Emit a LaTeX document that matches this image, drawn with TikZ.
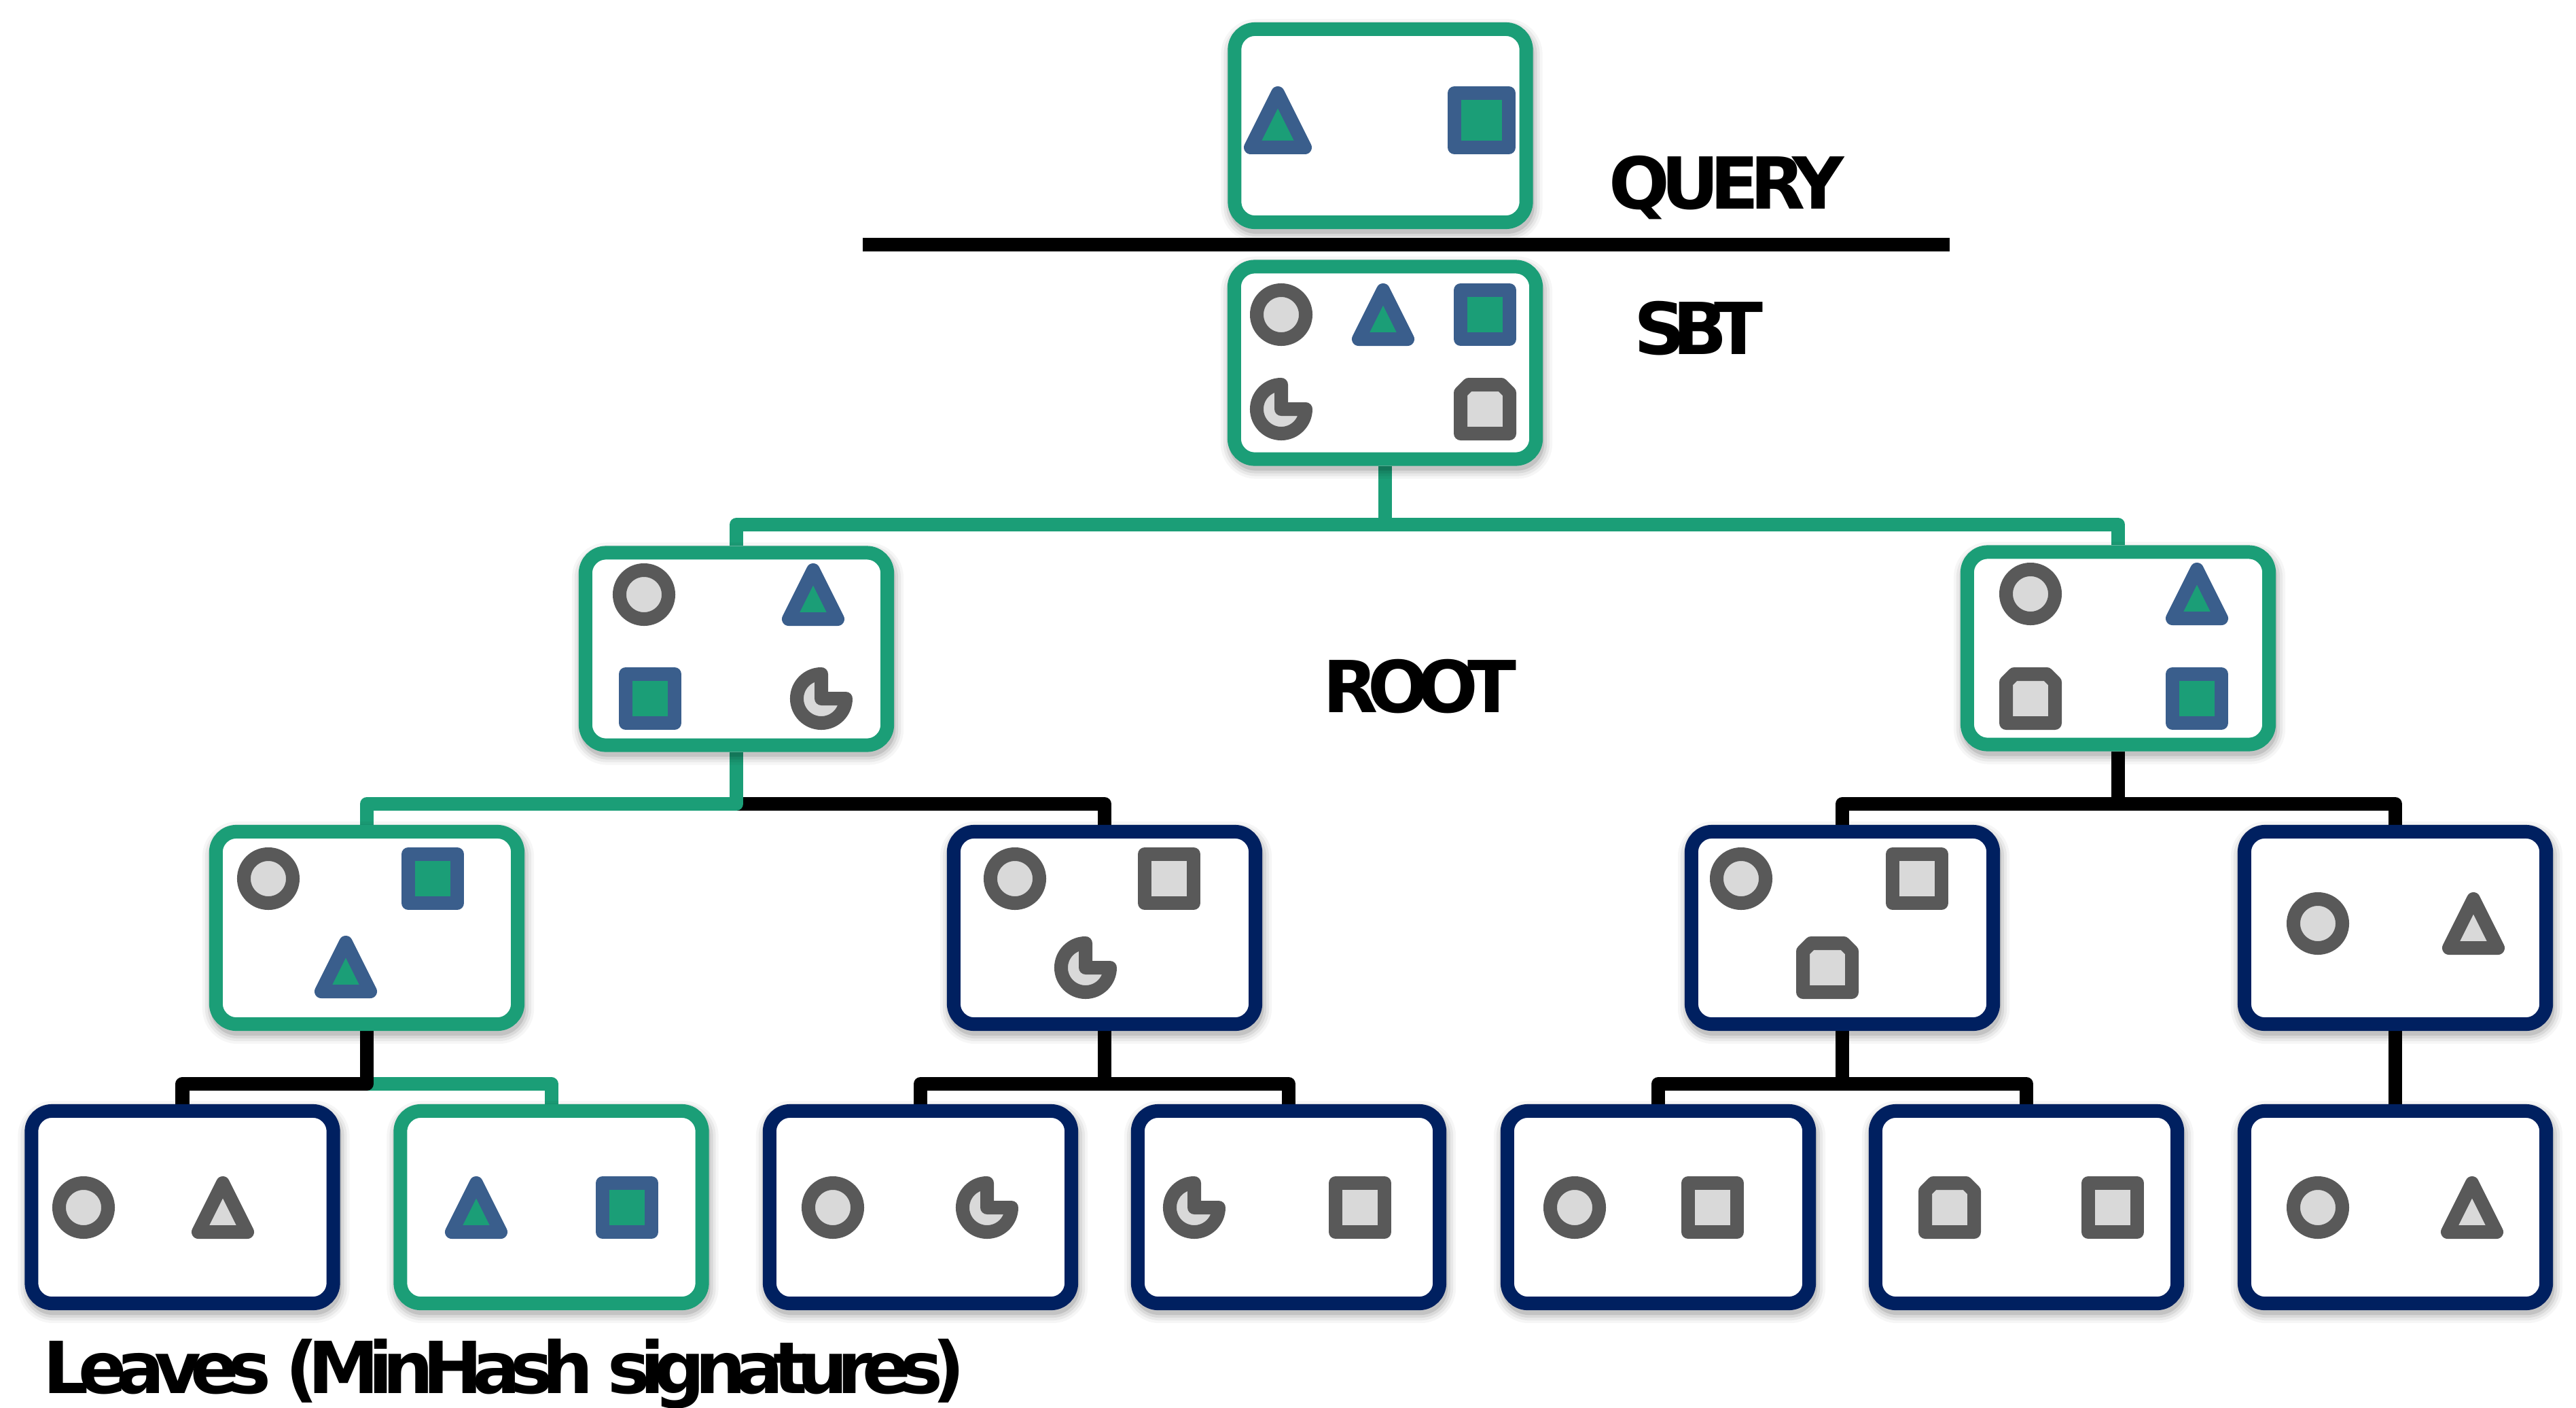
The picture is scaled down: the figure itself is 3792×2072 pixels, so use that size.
\documentclass[tikz,border=0pt]{standalone}
\usepackage{fontspec}
\usetikzlibrary{shadows,calc,backgrounds}
\newfontfamily\labfont{DejaVu Sans}
\definecolor{tgreen}{HTML}{1B9E77}
\definecolor{tnavy}{HTML}{002060}
\definecolor{tblue}{HTML}{3A5E8C}
\definecolor{tgray}{HTML}{595959}
\definecolor{tlight}{HTML}{D9D9D9}
\tikzset{
  softshadow/.style={
    general shadow={shadow xshift=.02cm,shadow yshift=-.07cm,draw=black,fill=black,line width=.44cm,opacity=.035},
    general shadow={shadow xshift=.02cm,shadow yshift=-.07cm,draw=black,fill=black,line width=.36cm,opacity=.05},
    general shadow={shadow xshift=.02cm,shadow yshift=-.07cm,draw=black,fill=black,line width=.28cm,opacity=.07},
    general shadow={shadow xshift=.02cm,shadow yshift=-.07cm,draw=black,fill=black,line width=.2cm,opacity=.1}
  },
  treebox/.style={draw,fill=white,line width=.2cm,rounded corners=.3cm,inner sep=0pt,
    minimum width=4.44cm,minimum height=2.83cm,softshadow},
  hitbox/.style={treebox,draw=tgreen},
  missbox/.style={treebox,draw=tnavy},
  link/.style={line width=.2cm,line join=round},
  hitlink/.style={link,draw=tgreen},
  misslink/.style={link,draw=black},
  graysym/.style={draw=tgray,fill=tlight,line width=.2cm,line join=round},
  bluesym/.style={draw=tblue,fill=tgreen,line width=.2cm,line join=round},
  lab/.style={anchor=base west,inner sep=0pt,font=\labfont\bfseries\fontsize{30}{36}\selectfont,text=black},
  pics/trisym/.style={code={\draw[pic actions] (-36,36) -- (36,36) -- (0,-36) -- cycle;}},
  pics/squaresym/.style={code={\draw[pic actions] (-36,-36) rectangle (36,36);}},
  pics/circlesym/.style={code={\draw[pic actions] (0,0) circle[radius=.36cm];}},
  pics/piesym/.style={code={\draw[pic actions] (0,-36) -- (0,0) -- (36,0) arc[start angle=0,end angle=-270,radius=.36cm] -- cycle;}},
  pics/snipsym/.style={code={\draw[pic actions] (-36,36) -- (36,36) -- (36,-24) -- (24,-36) -- (-24,-36) -- (-36,-24) -- cycle;}},
}
\begin{document}
\begin{tikzpicture}[x=.01cm,y=-.01cm]
\useasboundingbox (0,0) rectangle (3792,2072);
% boxes
\node[hitbox,minimum width=4.29cm,minimum height=2.84cm] (query) at (2032,185) {};
\node[hitbox] (sbt) at (2039,534) {};
\node[hitbox] (l2a) at (1084,955) {};
\node[hitbox] (l2b) at (3118,954) {};
\node[hitbox] (l3a) at (540,1365.5) {};
\node[missbox] (l3b) at (1626,1365.5) {};
\node[missbox] (l3c) at (2712,1365.5) {};
\node[missbox] (l3d) at (3526,1365.5) {};
\node[missbox] (la) at (268.5,1776.5) {};
\node[hitbox] (lb) at (811.5,1776.5) {};
\node[missbox] (lc) at (1355,1776.5) {};
\node[missbox] (ld) at (1897,1776.5) {};
\node[missbox] (le) at (2441,1776.5) {};
\node[missbox] (lf) at (2983,1776.5) {};
\node[missbox] (lg) at (3526,1776.5) {};
% bar levels
\coordinate (bartop) at (sbt |- 0,772);
\coordinate (barl) at (l2a |- 0,1183);
\coordinate (barr) at (l2b |- 0,1183);
\coordinate (bara) at (l3a |- 0,1595);
\coordinate (barb) at (l3b |- 0,1595);
\coordinate (barc) at (l3c |- 0,1595);
% connectors, beneath the boxes and their shadows
\begin{scope}[on background layer]
\draw[hitlink] (sbt.south) -- (bartop) -| (l2b.north);
\draw[hitlink] (bartop) -| (l2a.north);
\draw[misslink] (barl) -| (l3b.north);
\draw[hitlink] (l2a.south) -- (barl) -| (l3a.north);
\draw[misslink] (barr) -| (l3c.north);
\draw[misslink] (l2b.south) -- (barr) -| (l3d.north);
\draw[hitlink] (bara) -| (lb.north);
\draw[misslink] (l3a.south) -- (bara) -| (la.north);
\draw[misslink] (barb) -| (ld.north);
\draw[misslink] (l3b.south) -- (barb) -| (lc.north);
\draw[misslink] (barc) -| (lf.north);
\draw[misslink] (l3c.south) -- (barc) -| (le.north);
\draw[misslink] (l3d.south) -- (lg.north);
\end{scope}
% rule
\coordinate (rulea) at (1270,360);
\coordinate (ruleb) at (2870,360);
\draw[line width=.2cm] (rulea) -- (ruleb);
% labels
\node[lab] (tq) at (2368,307) {\addfontfeature{LetterSpace=-12.7}QUERY};
\node[lab] (ts) at (2405,521) {\addfontfeature{LetterSpace=-18.4}SBT};
\node[lab] (tr) at (1947,1048) {\addfontfeature{LetterSpace=-15}ROOT};
\node[lab] (tl) at (63,2050) {\addfontfeature{LetterSpace=-14.7}Leaves (MinHash signatures)};
% query symbols
\pic[bluesym,scale=1.11] at (1881,177) {trisym};
\pic[bluesym,scale=1.11] at (2181,177) {squaresym};
% sbt
\pic[graysym] at (1886,463) {circlesym};
\pic[bluesym] at (2036,463) {trisym};
\pic[bluesym] at (2186,463) {squaresym};
\pic[graysym] at (1886,602) {piesym};
\pic[graysym] at (2186,602) {snipsym};
% level 2 left
\pic[graysym] at (948,875) {circlesym};
\pic[bluesym] at (1197,875) {trisym};
\pic[bluesym] at (957,1028) {squaresym};
\pic[graysym] at (1209,1028) {piesym};
% level 2 right
\pic[graysym] at (2989,874) {circlesym};
\pic[bluesym] at (3234,874) {trisym};
\pic[graysym] at (2989,1028) {snipsym};
\pic[bluesym] at (3234,1028) {squaresym};
% level 3
\pic[graysym] at (395,1293) {circlesym};
\pic[bluesym] at (637,1293) {squaresym};
\pic[bluesym] at (509,1423) {trisym};
\pic[graysym] at (1494,1293) {circlesym};
\pic[graysym] at (1721,1293) {squaresym};
\pic[graysym] at (1598,1424) {piesym};
\pic[graysym] at (2563,1293) {circlesym};
\pic[graysym] at (2822,1293) {squaresym};
\pic[graysym] at (2690,1424) {snipsym};
\pic[graysym] at (3412,1359) {circlesym};
\pic[graysym] at (3641,1359) {trisym};
% leaves
\pic[graysym] at (123,1777) {circlesym};
\pic[graysym] at (328,1777) {trisym};
\pic[bluesym] at (701,1777) {trisym};
\pic[bluesym] at (923,1777) {squaresym};
\pic[graysym] at (1226,1777) {circlesym};
\pic[graysym] at (1453,1777) {piesym};
\pic[graysym] at (1758,1777) {piesym};
\pic[graysym] at (2002,1777) {squaresym};
\pic[graysym] at (2318,1777) {circlesym};
\pic[graysym] at (2521,1777) {squaresym};
\pic[graysym] at (2870,1777) {snipsym};
\pic[graysym] at (3110,1777) {squaresym};
\pic[graysym] at (3412,1777) {circlesym};
\pic[graysym] at (3639,1777) {trisym};
\end{tikzpicture}
\end{document}
